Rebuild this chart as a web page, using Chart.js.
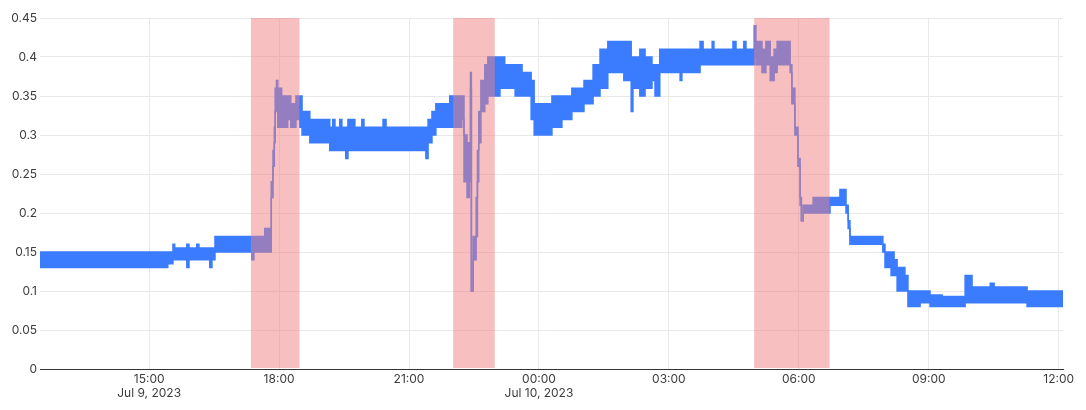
<!DOCTYPE html>
<html>
<head>
<meta charset="utf-8">
<script src="https://cdn.jsdelivr.net/npm/chart.js@4/dist/chart.umd.min.js"></script>
<style>
  html, body { margin: 0; padding: 0; background: #fff; }
  #wrap { width: 1086px; height: 410px; position: relative; }
</style>
</head>
<body>
<div id="wrap"><canvas id="signalChart"></canvas></div>
<script>
// hours counted from Jul 9, 2023 00:00; each value holds until the next time
const times = [12.48, 15.13, 15.43, 15.55, 15.59, 15.87, 15.92, 16.10, 16.15, 16.40,
    16.45, 16.52, 17.37, 17.42, 17.67, 17.79, 17.82, 17.86, 17.89, 17.91,
    17.94, 17.97, 18.06, 18.20, 18.27, 18.39, 18.48, 18.53, 18.71, 19.17,
    19.24, 19.29, 19.40, 19.45, 19.54, 19.59, 19.75, 19.91, 19.96, 20.40,
    20.47, 21.39, 21.44, 21.53, 21.62, 21.94, 22.22, 22.27, 22.34, 22.39,
    22.42, 22.44, 22.48, 22.55, 22.58, 22.61, 22.66, 22.75, 22.82, 23.10,
    23.21, 23.45, 23.61, 23.75, 23.82, 23.89, 24.30, 24.53, 24.76, 25.04,
    25.25, 25.41, 25.59, 25.96, 26.13, 26.17, 26.33, 26.45, 26.61, 26.68,
    26.79, 27.26, 27.30, 27.72, 27.79, 28.00, 28.04, 28.48, 28.55, 28.73,
    28.78, 28.97, 29.01, 29.15, 29.24, 29.34, 29.43, 29.50, 29.80, 29.84,
    29.91, 29.98, 30.03, 30.06, 30.10, 30.33, 30.72, 30.95, 31.09, 31.14,
    31.18, 31.94, 31.99, 32.13, 32.20, 32.27, 32.45, 32.52, 32.80, 33.03,
    33.31, 33.84, 34.00, 34.42, 34.51, 35.27, 36.10];

const upper = [0.15, 0.15, 0.15, 0.16, 0.155, 0.16, 0.155, 0.16, 0.155, 0.155,
    0.155, 0.17, 0.17, 0.17, 0.18, 0.16, 0.24, 0.28, 0.31, 0.36,
    0.37, 0.36, 0.35, 0.35, 0.34, 0.35, 0.35, 0.33, 0.32, 0.31,
    0.32, 0.31, 0.32, 0.31, 0.31, 0.32, 0.31, 0.32, 0.31, 0.32,
    0.31, 0.31, 0.32, 0.33, 0.34, 0.35, 0.35, 0.30, 0.29, 0.26,
    0.38, 0.10, 0.17, 0.22, 0.28, 0.33, 0.37, 0.39, 0.40, 0.40,
    0.39, 0.39, 0.38, 0.38, 0.37, 0.34, 0.35, 0.35, 0.36, 0.37,
    0.39, 0.41, 0.42, 0.42, 0.40, 0.40, 0.41, 0.40, 0.39, 0.39,
    0.41, 0.41, 0.41, 0.42, 0.41, 0.42, 0.41, 0.42, 0.41, 0.42,
    0.41, 0.44, 0.42, 0.41, 0.42, 0.40, 0.41, 0.42, 0.39, 0.36,
    0.31, 0.27, 0.22, 0.19, 0.21, 0.22, 0.22, 0.23, 0.21, 0.19,
    0.17, 0.16, 0.15, 0.15, 0.14, 0.13, 0.12, 0.10, 0.10, 0.095,
    0.093, 0.12, 0.105, 0.11, 0.105, 0.10, 0.10];

const lower = [0.13, 0.13, 0.135, 0.14, 0.14, 0.13, 0.14, 0.14, 0.14, 0.13,
    0.14, 0.15, 0.14, 0.15, 0.15, 0.15, 0.22, 0.26, 0.29, 0.33,
    0.34, 0.31, 0.31, 0.32, 0.31, 0.32, 0.31, 0.30, 0.29, 0.28,
    0.28, 0.28, 0.28, 0.28, 0.27, 0.28, 0.28, 0.28, 0.28, 0.28,
    0.28, 0.27, 0.29, 0.30, 0.31, 0.31, 0.32, 0.24, 0.22, 0.24,
    0.36, 0.10, 0.14, 0.17, 0.24, 0.29, 0.33, 0.34, 0.35, 0.36,
    0.36, 0.35, 0.35, 0.35, 0.32, 0.30, 0.31, 0.32, 0.33, 0.34,
    0.35, 0.36, 0.38, 0.37, 0.33, 0.36, 0.35, 0.36, 0.37, 0.35,
    0.38, 0.37, 0.38, 0.39, 0.39, 0.39, 0.39, 0.39, 0.39, 0.39,
    0.39, 0.40, 0.39, 0.38, 0.39, 0.37, 0.38, 0.39, 0.38, 0.34,
    0.30, 0.26, 0.21, 0.19, 0.20, 0.20, 0.21, 0.21, 0.20, 0.18,
    0.16, 0.15, 0.13, 0.12, 0.12, 0.10, 0.10, 0.08, 0.085, 0.08,
    0.08, 0.085, 0.085, 0.085, 0.085, 0.08, 0.08];

const bandStarts = [17.35, 22.02, 28.97];
const bandEnds = [18.47, 22.98, 30.71];

const tickHours = [15, 18, 21, 24, 27, 30, 33, 36];
const tickTimes = ["15:00", "18:00", "21:00", "00:00", "03:00", "06:00", "09:00", "12:00"];
const tickDates = ["Jul 9, 2023", "", "", "Jul 10, 2023", "", "", "", ""];

const lineBlue = "#3b7cff";

// ---------------- SHADED BANDS ----------------

const bandPlugin = {
    id: "bands",
    afterDatasetsDraw(chart) {
        const ctx = chart.ctx;
        const xs = chart.scales.x;
        const area = chart.chartArea;
        ctx.save();
        ctx.fillStyle = "rgba(240,128,128,0.5)";
        for (let i = 0; i < bandStarts.length; i++) {
            const x0 = xs.getPixelForValue(bandStarts[i]);
            const x1 = xs.getPixelForValue(bandEnds[i]);
            ctx.fillRect(x0, area.top, x1 - x0, area.bottom - area.top - 1);
        }
        ctx.restore();
    }
};

// ---------------- LINE CHART ----------------

new Chart(document.getElementById("signalChart"), {
    type: "line",
    data: {
        datasets: [{
            data: times.map((t, i) => ({ x: t, y: upper[i] })),
            borderColor: lineBlue,
            backgroundColor: lineBlue,
            borderWidth: 1.5,
            pointRadius: 0,
            stepped: true,
            fill: "+1"
        }, {
            data: times.map((t, i) => ({ x: t, y: lower[i] })),
            borderColor: lineBlue,
            backgroundColor: lineBlue,
            borderWidth: 1.5,
            pointRadius: 0,
            stepped: true,
            fill: false
        }]
    },
    options: {
        responsive: true,
        maintainAspectRatio: false,
        animation: false,
        layout: {
            padding: { top: 18, right: 23, left: 0, bottom: 0 }
        },
        plugins: {
            legend: { display: false },
            tooltip: { enabled: false }
        },
        scales: {
            x: {
                type: "linear",
                min: 12.48,
                max: 36.1,
                afterBuildTicks: scale => {
                    scale.ticks = tickHours.map(h => ({ value: h }));
                },
                afterFit: scale => { scale.height = 41; },
                grid: {
                    color: "#e9e9e9",
                    drawTicks: false
                },
                border: { color: "#333", width: 1 },
                ticks: {
                    autoSkip: false,
                    maxRotation: 0,
                    padding: 3,
                    color: "#3c3c3c",
                    font: { family: "Inter", size: 12 },
                    callback: (value) => {
                        const i = tickHours.indexOf(value);
                        return tickDates[i] ? [tickTimes[i], tickDates[i]] : tickTimes[i];
                    }
                }
            },
            y: {
                min: 0,
                max: 0.45,
                afterFit: scale => { scale.width = 40; },
                grid: {
                    color: "#e9e9e9",
                    drawTicks: false
                },
                border: { display: false },
                ticks: {
                    stepSize: 0.05,
                    padding: 3,
                    color: "#3c3c3c",
                    font: { family: "Inter", size: 12 },
                    callback: v => String(Number(v.toFixed(2)))
                }
            }
        }
    },
    plugins: [bandPlugin]
});
</script>
</body>
</html>
